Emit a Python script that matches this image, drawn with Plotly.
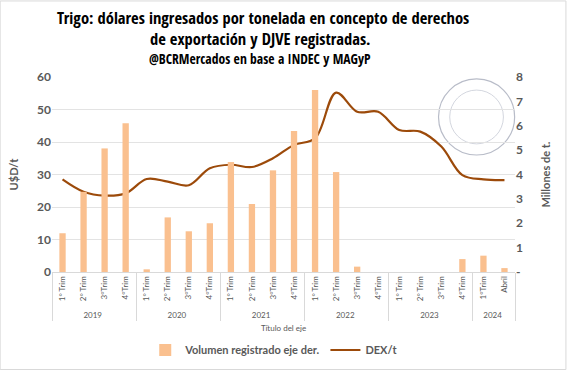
import plotly.graph_objects as go

years = ["2019"] * 4 + ["2020"] * 4 + ["2021"] * 4 + ["2022"] * 4 + ["2023"] * 4 + ["2024"] * 2
periods = ["1° Trim", "2° Trim", "3°Trim", "4°Trim"] * 5 + ["1°Trim", "Abril"]
volumen = [1.59, 3.29, 5.07, 6.10, 0.11, 2.24, 1.67, 2.00, 4.51, 2.79, 4.17, 5.78,
           7.47, 4.10, 0.22, 0.0, 0.0, 0.0, 0.0, 0.53, 0.67, 0.16]
dex_t = [28.5, 24.7, 23.5, 24.2, 28.6, 27.8, 26.7, 31.9, 33.0, 32.3, 35.0, 39.1,
         41.1, 55.2, 49.3, 49.3, 43.7, 43.2, 38.6, 29.8, 28.5, 28.3]
left_ticks = [0, 10, 20, 30, 40, 50, 60]
right_ticks = [0, 1, 2, 3, 4, 5, 6, 7, 8]
right_labels = ["-", "1", "2", "3", "4", "5", "6", "7", "8"]

BAR = "#FAC08F"
LINE = "#9C4A0A"
GREY = "#595959"
FONT = "Lato, 'Open Sans', sans-serif"
TFONT = "'Open Sans Condensed', 'Roboto Condensed', sans-serif"

fig = go.Figure()
fig.add_trace(go.Bar(x=[years, periods], y=volumen, name="Volumen registrado eje der.",
                     marker=dict(color=BAR, line=dict(width=0)), yaxis="y2"))
fig.add_trace(go.Scatter(x=[years, periods], y=dex_t, name="DEX/t", mode="lines",
                         line=dict(color=LINE, width=2.2, shape="spline", smoothing=1.0)))

fig.update_layout(
    width=567, height=370,
    margin=dict(l=52, r=52, t=77, b=98),
    paper_bgcolor="white", plot_bgcolor="white",
    bargap=0.7,
    xaxis=dict(type="multicategory", tickangle=-90, showgrid=False,
               tickfont=dict(family=FONT, size=8, color=GREY),
               showline=True, linecolor="#D9D9D9", dividercolor="#D9D9D9", dividerwidth=1,
               ticks="", automargin=False),
    yaxis=dict(range=[0, 60], tickvals=left_ticks, showgrid=True, gridcolor="#E3E3E3",
               zeroline=False, tickfont=dict(family=FONT, size=12, color=GREY, weight="bold"),
               automargin=False,
               title=dict(text="U$D/t", font=dict(family=FONT, size=11, color=GREY, weight="bold"), standoff=16)),
    yaxis2=dict(range=[0, 8], tickvals=right_ticks, ticktext=right_labels, overlaying="y",
                side="right", showgrid=False, zeroline=False, automargin=False,
                tickfont=dict(family=FONT, size=12, color=GREY, weight="bold"),
                title=dict(text="Millones de t.", font=dict(family=FONT, size=11, color=GREY, weight="bold"), standoff=20)),
    legend=dict(orientation="h", x=0.48, xanchor="center", yref="container", y=20 / 370, yanchor="middle",
                font=dict(family=FONT, size=11, color=GREY, weight="bold"), traceorder="normal"),
    annotations=[
        dict(text="<b>Trigo: dólares ingresados por tonelada en concepto de derechos</b>", x=0.0054, xanchor="left",
             y=1.3026, xref="paper", yref="paper", showarrow=False, yanchor="middle",
             font=dict(family=TFONT, size=16.5, color="#000000")),
        dict(text="<b>de exportación y DJVE registradas.</b>", x=0.2078, xanchor="left", y=1.2,
             xref="paper", yref="paper", showarrow=False, yanchor="middle",
             font=dict(family=TFONT, size=16.5, color="#000000")),
        dict(text="<b>@BCRMercados en base a INDEC y MAGyP</b>", x=0.2056, xanchor="left", y=1.097,
             xref="paper", yref="paper", showarrow=False, yanchor="middle",
             font=dict(family=TFONT, size=13.6, color="#000000")),
        dict(text="Título del eje", x=0.5, y=-0.287, xref="paper", yref="paper", yanchor="middle",
             showarrow=False, font=dict(family=FONT, size=8, color=GREY)),
    ],
    shapes=[
        dict(type="rect", xref="paper", yref="paper", x0=-0.112, x1=1.11, y0=-0.5, y1=1.39,
             line=dict(color="#D9D9D9", width=1)),
        dict(type="circle", xref="paper", yref="paper", x0=0.917 - 0.0822, x1=0.917 + 0.0822,
             y0=0.795 - 0.195, y1=0.795 + 0.195, line=dict(color="#B8BCC8", width=1.2), layer="below"),
        dict(type="circle", xref="paper", yref="paper", x0=0.917 - 0.058, x1=0.917 + 0.058,
             y0=0.795 - 0.138, y1=0.795 + 0.138, line=dict(color="#C8CCD6", width=0.8), layer="below"),
    ],
)

fig.write_html("out.html", config={"displayModeBar": False},
               post_script="document.body.style.margin='0';")
